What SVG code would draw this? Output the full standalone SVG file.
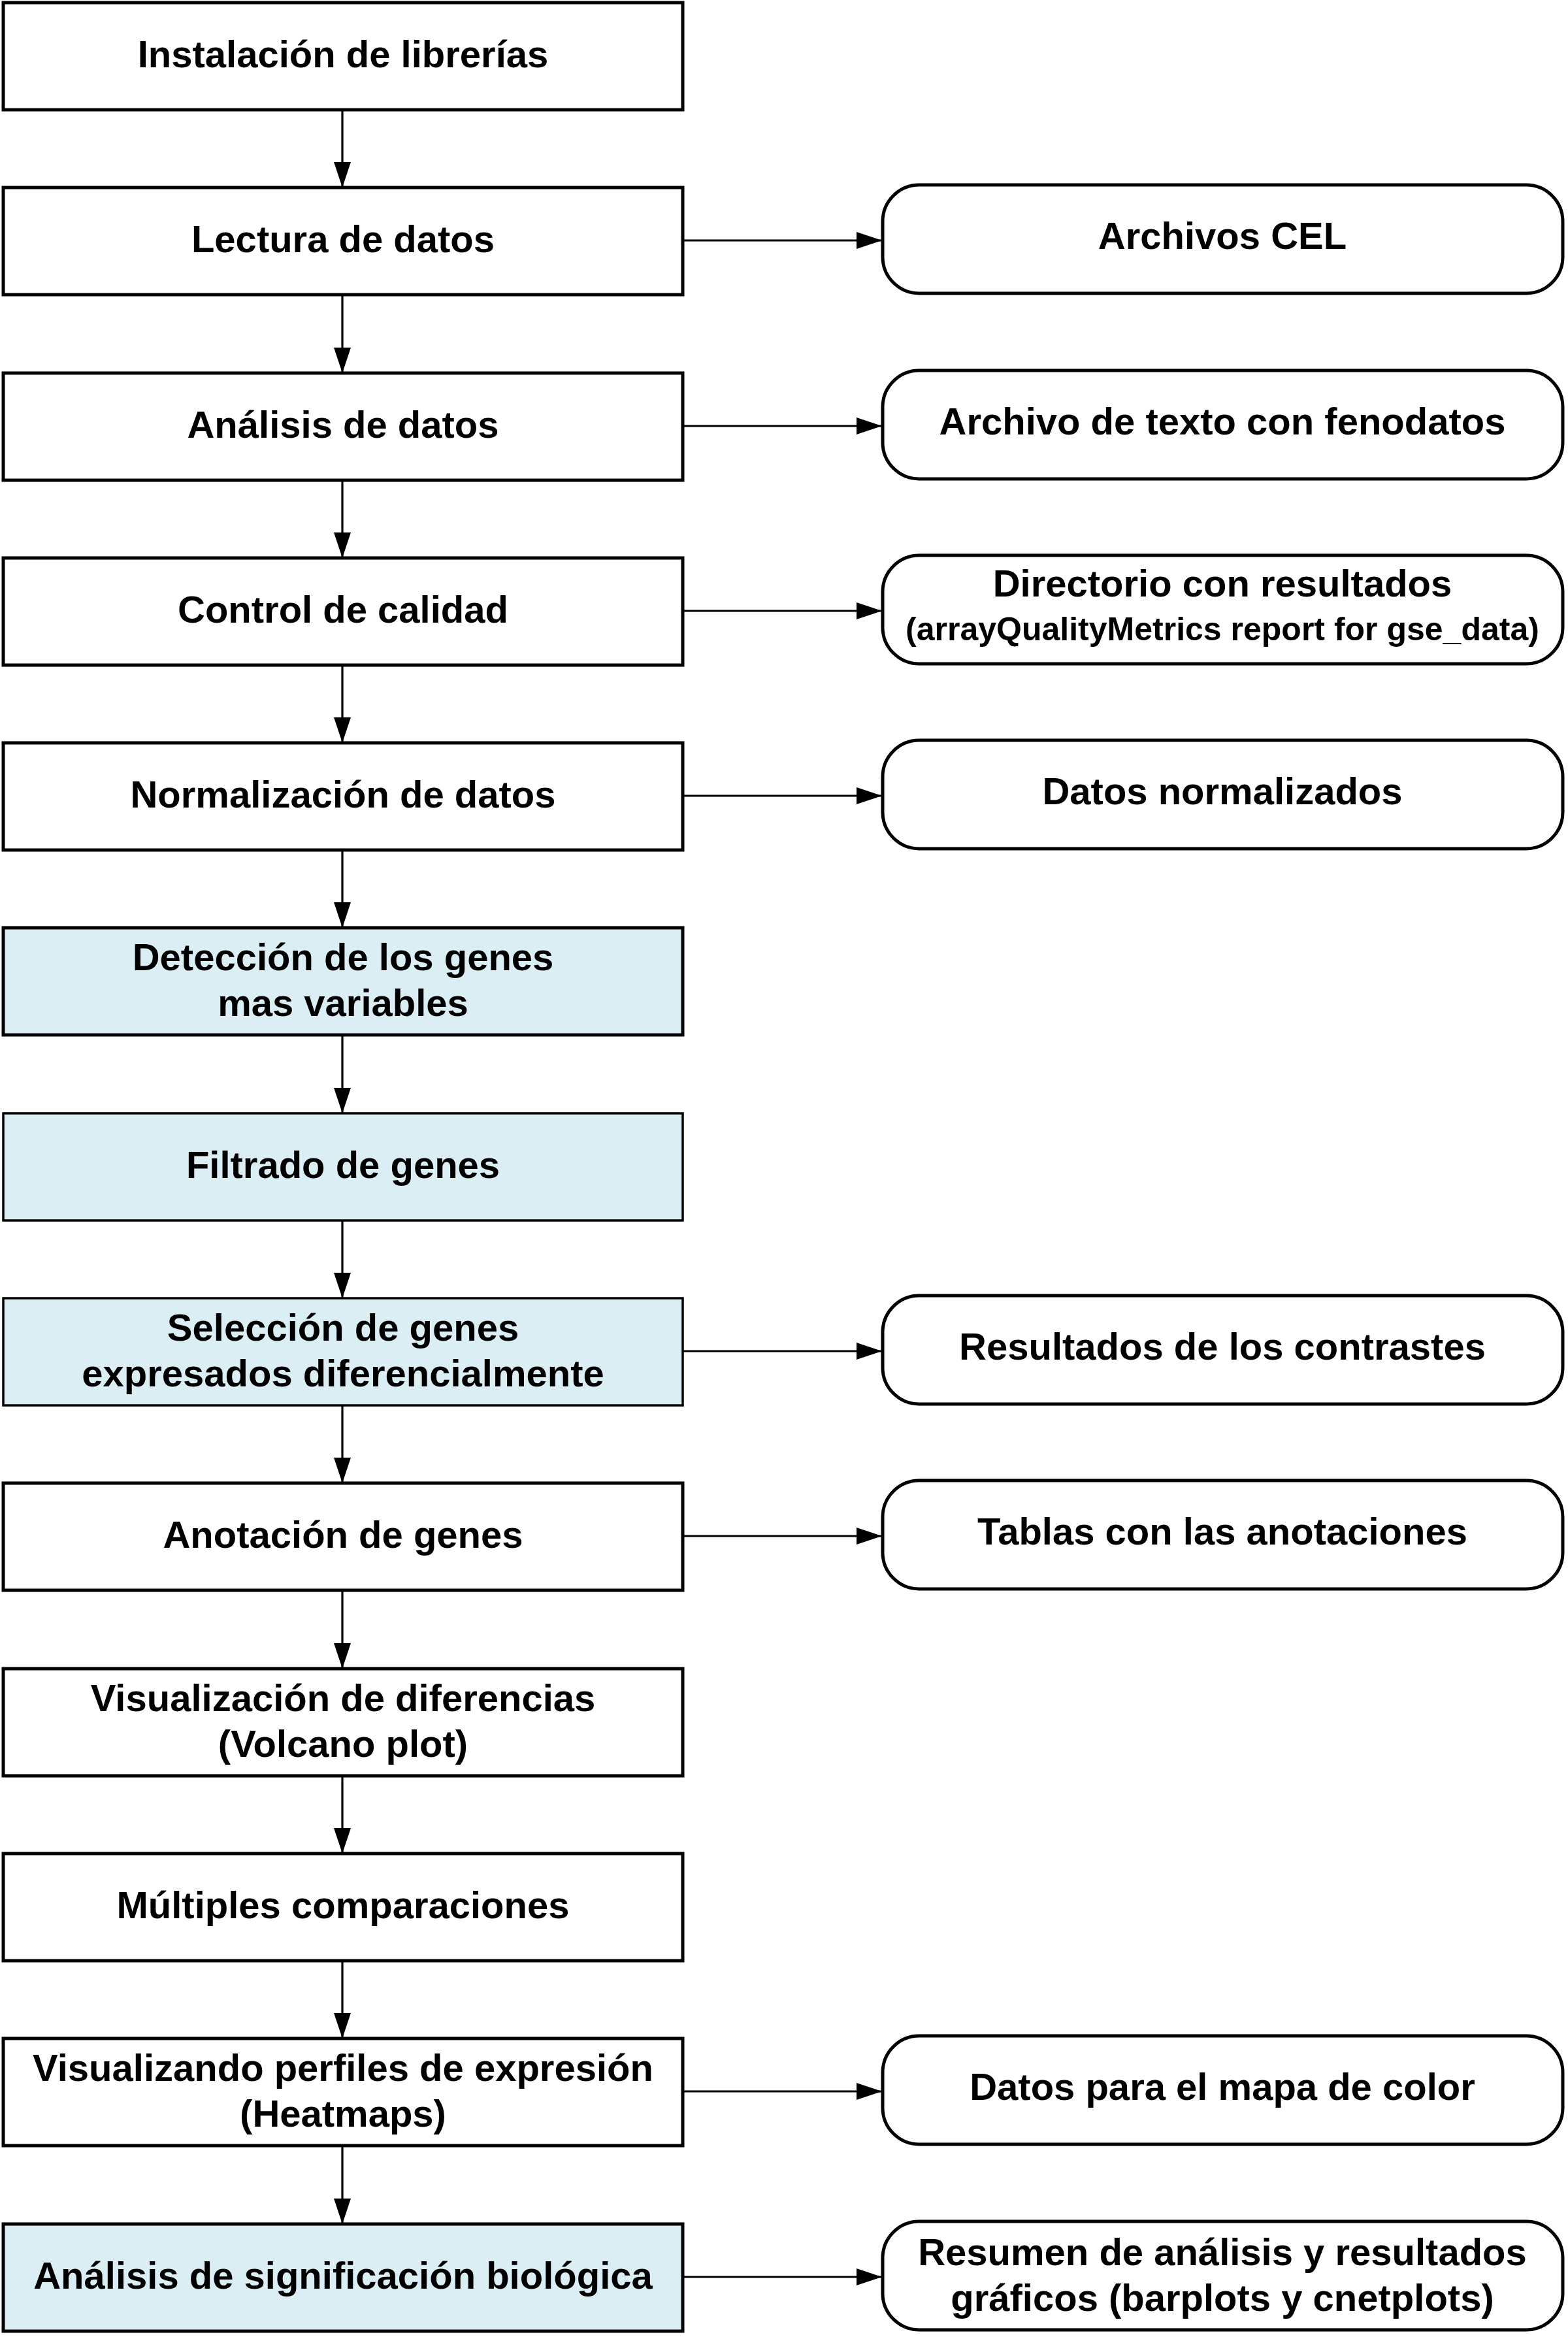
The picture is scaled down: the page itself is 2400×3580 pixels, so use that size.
<svg xmlns="http://www.w3.org/2000/svg" width="2400" height="3580" viewBox="0 0 2400 3580">
<style>
.box{fill:#ffffff;stroke:#000;stroke-width:5}
.blue{fill:#DAEEF3}
.thin{stroke-width:3.5}
.out{fill:#ffffff;stroke:#000;stroke-width:5}
.t{font-family:"Liberation Sans",Arial,sans-serif;font-weight:bold;font-size:58px;text-anchor:middle;fill:#000}
.s{font-size:50px}
.c{stroke:#000;stroke-width:3.2;fill:none;marker-end:url(#ah)}
</style>
<defs>
<marker id="ah" markerUnits="userSpaceOnUse" markerWidth="42" markerHeight="28" refX="39" refY="13" orient="auto">
<path d="M0,0 L39,13 L0,26 Z" fill="#000"/>
</marker>
</defs>
<rect width="2400" height="3580" fill="#ffffff"/>
<g id="connectors">
<line class="c" x1="524" y1="168" x2="524" y2="287"/>
<line class="c" x1="524" y1="451" x2="524" y2="571"/>
<line class="c" x1="524" y1="735" x2="524" y2="854"/>
<line class="c" x1="524" y1="1018" x2="524" y2="1137"/>
<line class="c" x1="524" y1="1301" x2="524" y2="1420"/>
<line class="c" x1="524" y1="1584" x2="524" y2="1704"/>
<line class="c" x1="524" y1="1868" x2="524" y2="1987"/>
<line class="c" x1="524" y1="2151" x2="524" y2="2270"/>
<line class="c" x1="524" y1="2434" x2="524" y2="2554"/>
<line class="c" x1="524" y1="2718" x2="524" y2="2837"/>
<line class="c" x1="524" y1="3001" x2="524" y2="3120"/>
<line class="c" x1="524" y1="3284" x2="524" y2="3404"/>
<line class="c" x1="1045" y1="368" x2="1350" y2="368"/>
<line class="c" x1="1045" y1="652" x2="1350" y2="652"/>
<line class="c" x1="1045" y1="935" x2="1350" y2="935"/>
<line class="c" x1="1045" y1="1218" x2="1350" y2="1218"/>
<line class="c" x1="1045" y1="2068" x2="1350" y2="2068"/>
<line class="c" x1="1045" y1="2351" x2="1350" y2="2351"/>
<line class="c" x1="1045" y1="3201" x2="1350" y2="3201"/>
<line class="c" x1="1045" y1="3485" x2="1350" y2="3485"/>
</g>
<g id="n0"><rect class="box" x="5" y="4" width="1040" height="164"/><text class="t" x="525" y="103">Instalación de librerías</text></g>
<g id="n1"><rect class="box" x="5" y="287" width="1040" height="164"/><text class="t" x="525" y="386">Lectura de datos</text></g>
<g id="n2"><rect class="box" x="5" y="571" width="1040" height="164"/><text class="t" x="525" y="670">Análisis de datos</text></g>
<g id="n3"><rect class="box" x="5" y="854" width="1040" height="164"/><text class="t" x="525" y="953">Control de calidad</text></g>
<g id="n4"><rect class="box" x="5" y="1137" width="1040" height="164"/><text class="t" x="525" y="1236">Normalización de datos</text></g>
<g id="n5"><rect class="box blue" x="5" y="1420" width="1040" height="164"/><text class="t" x="525" y="1485">Detección de los genes</text><text class="t" x="525" y="1555">mas variables</text></g>
<g id="n6"><rect class="box blue thin" x="5" y="1704" width="1040" height="164"/><text class="t" x="525" y="1803">Filtrado de genes</text></g>
<g id="n7"><rect class="box blue thin" x="5" y="1987" width="1040" height="164"/><text class="t" x="525" y="2052">Selección de genes</text><text class="t" x="525" y="2122">expresados diferencialmente</text></g>
<g id="n8"><rect class="box" x="5" y="2270" width="1040" height="164"/><text class="t" x="525" y="2369">Anotación de genes</text></g>
<g id="n9"><rect class="box" x="5" y="2554" width="1040" height="164"/><text class="t" x="525" y="2619">Visualización de diferencias</text><text class="t" x="525" y="2689">(Volcano plot)</text></g>
<g id="n10"><rect class="box" x="5" y="2837" width="1040" height="164"/><text class="t" x="525" y="2936">Múltiples comparaciones</text></g>
<g id="n11"><rect class="box" x="5" y="3120" width="1040" height="164"/><text class="t" x="525" y="3185">Visualizando perfiles de expresión</text><text class="t" x="525" y="3255">(Heatmaps)</text></g>
<g id="n12"><rect class="box blue" x="5" y="3404" width="1040" height="164"/><text class="t" x="525" y="3503">Análisis de significación biológica</text></g>
<g id="r1"><rect class="out" x="1351" y="283" width="1041" height="166" rx="56" ry="56"/><text class="t" x="1871" y="381">Archivos CEL</text></g>
<g id="r2"><rect class="out" x="1351" y="567" width="1041" height="166" rx="56" ry="56"/><text class="t" x="1871" y="665">Archivo de texto con fenodatos</text></g>
<g id="r3"><rect class="out" x="1351" y="850" width="1041" height="166" rx="56" ry="56"/><text class="t" x="1871" y="913">Directorio con resultados</text><text class="t s" x="1871" y="980">(arrayQualityMetrics report for gse_data)</text></g>
<g id="r4"><rect class="out" x="1351" y="1133" width="1041" height="166" rx="56" ry="56"/><text class="t" x="1871" y="1231">Datos normalizados</text></g>
<g id="r7"><rect class="out" x="1351" y="1983" width="1041" height="166" rx="56" ry="56"/><text class="t" x="1871" y="2081">Resultados de los contrastes</text></g>
<g id="r8"><rect class="out" x="1351" y="2266" width="1041" height="166" rx="56" ry="56"/><text class="t" x="1871" y="2364">Tablas con las anotaciones</text></g>
<g id="r11"><rect class="out" x="1351" y="3116" width="1041" height="166" rx="56" ry="56"/><text class="t" x="1871" y="3214">Datos para el mapa de color</text></g>
<g id="r12"><rect class="out" x="1351" y="3400" width="1041" height="166" rx="56" ry="56"/><text class="t" x="1871" y="3467">Resumen de análisis y resultados</text><text class="t" x="1871" y="3537">gráficos (barplots y cnetplots)</text></g>
</svg>
